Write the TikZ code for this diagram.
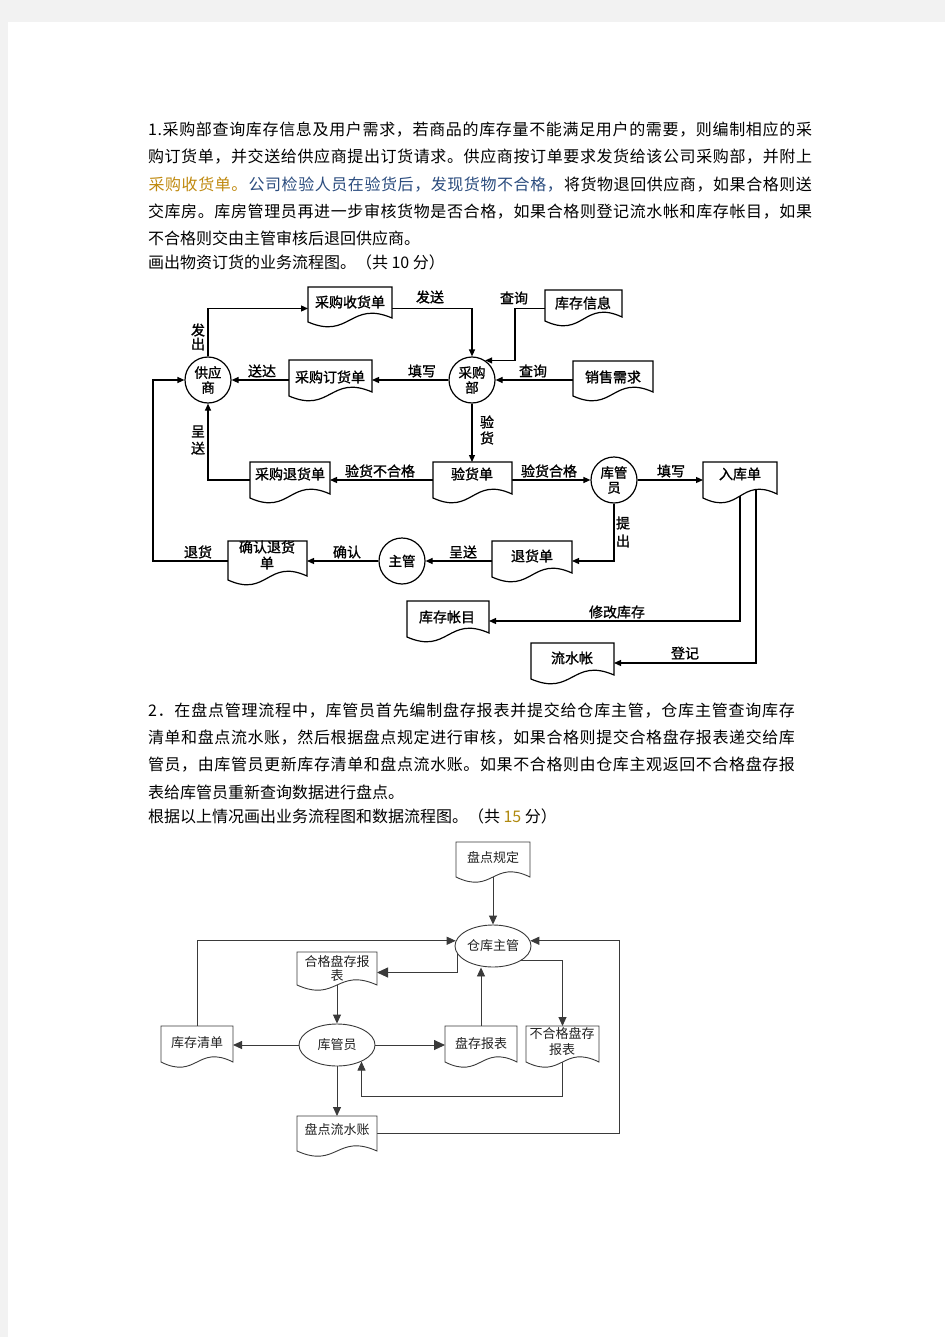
\documentclass[tikz,border=0pt]{standalone}
\usepackage{fontspec}
\setmainfont{Noto Sans CJK SC}
\newfontfamily\cjkbold[FakeBold=1.2]{Noto Sans CJK SC}
\usetikzlibrary{arrows.meta,calc,shapes.geometric}
\pgfdeclarelayer{back}
\pgfdeclarelayer{conn}
\pgfsetlayers{back,conn,main}
\definecolor{pagegray}{HTML}{F2F2F2}
\definecolor{corange}{HTML}{C08A10}
\definecolor{cblue}{HTML}{2B4C7E}
\definecolor{cnum}{HTML}{B08A10}
\definecolor{linetwo}{HTML}{3A3A3A}
\definecolor{txttwo}{HTML}{222222}
\makeatletter
\newcommand\jline[2]{\hbox to #1{\jl@a#2\@nil}}
\def\jl@a#1#2\@nil{#1\ifx\relax#2\relax\else\hfil\jl@a#2\@nil\fi}
\makeatother
\newcommand\cO{\color{corange}}
\newcommand\cB{\color{cblue}}
\newcommand\cK{\color{black}}
% name, L, R, T, B, raise, up, down, style
\newcommand\docbox[9]{%
  \node[docrect, minimum width={#3-#2}, minimum height={#5-#4}] (#1) at ({(#2+#3)/2},{(#4+#5)/2}) {};
  \draw[#9] (#1.north west) -- (#1.north east) -- ($(#1.south east)+(0,-#6)$)
    .. controls ($(#1.south)+(0,-#7)$) and ($(#1.south)+(0,#8)$) .. (#1.south west) -- cycle;}
\begin{document}
\begin{tikzpicture}[x=1pt,y=-1pt,
  para/.style={anchor=west, inner sep=0, outer sep=0, font=\fontsize{16}{18}\selectfont},
  lab/.style={inner sep=0, align=center, font=\cjkbold\fontsize{14}{16}\selectfont},
  docrect/.style={draw=none, inner sep=0, outer sep=0, rectangle},
  docone/.style={draw=black, line width=1.2pt, fill=white},
  doctwo/.style={draw=linetwo, line width=0.9pt, fill=white},
  circone/.style={circle, draw=black, line width=1.2pt, fill=white, minimum size=46pt, inner sep=0, align=center, font=\cjkbold\fontsize{13.5}{15}\selectfont},
  elltwo/.style={ellipse, draw=linetwo, line width=0.9pt, fill=white, minimum width=76pt, minimum height=42pt, inner sep=0, font=\fontsize{13}{15}\selectfont, text=txttwo},
  aone/.style={line width=1.2pt, -{Triangle[length=7pt,width=6pt]}},
  atwo/.style={line width=0.9pt, draw=linetwo, -{Triangle[length=9pt,width=8pt]}},
  atwobig/.style={line width=0.9pt, draw=linetwo, -{Triangle[length=11pt,width=10pt]}},
  ttwo/.style={inner sep=0, align=center, font=\fontsize{13}{15}\selectfont, text=txttwo}]
\begin{pgfonlayer}{back}
\fill[pagegray] (0,0) rectangle (945,1337);
\fill[white] (8,22) rectangle (945,1337);
\end{pgfonlayer}
\useasboundingbox (0,0) rectangle (945,1337);

% ---------- paragraph 1 ----------
\node[para] (p1a) at (148,130) {\jline{664pt}{1.采购部查询库存信息及用户需求，若商品的库存量不能满足用户的需要，则编制相应的采}};
\node[para] (p1b) at (148,157) {\jline{664pt}{购订货单，并交送给供应商提出订货请求。供应商按订单要求发货给该公司采购部，并附上}};
\node[para] (p1c) at (148,185) {\jline{664pt}{\cO 采购收货单。\cB 公司检验人员在验货后，发现货物不合格，\cK 将货物退回供应商，如果合格则送}};
\node[para] (p1d) at (148,212) {\jline{664pt}{交库房。库房管理员再进一步审核货物是否合格，如果合格则登记流水帐和库存帐目，如果}};
\node[para] (p1e) at (148,238) {不合格则交由主管审核后退回供应商。};
\node[para] (p1f) at (148,262) {画出物资订货的业务流程图。（共 10 分）};

% ---------- diagram 1 ----------
\docbox{cgsh}{308}{392}{287}{322}{4}{22}{18}{docone}
\docbox{kcxx}{545}{622}{290}{321}{4}{22}{18}{docone}
\docbox{cgdh}{289}{372}{360}{396}{4}{22}{18}{docone}
\docbox{xsxq}{573}{653}{361}{396}{4}{22}{18}{docone}
\docbox{cgth}{250}{330}{462}{498}{4}{22}{18}{docone}
\docbox{yhd}{433}{512}{462}{498}{4}{22}{18}{docone}
\docbox{rkd}{703}{777}{462}{498}{4}{22}{18}{docone}
\docbox{qrth}{228}{307}{541}{580}{4}{22}{18}{docone}
\docbox{thd}{492}{572}{541}{577}{4}{22}{18}{docone}
\docbox{kczm}{407}{489}{601}{637}{4}{22}{18}{docone}
\docbox{lsz}{531}{614}{643}{679}{4}{22}{18}{docone}

\node[circone] (gys) at (208,380) {供应\\商};
\node[circone] (cgb) at (472,380) {采购\\部};
\node[circone] (kgy) at (614,480) {库管\\员};
\node[circone] (zg) at (402,561) {主管};

\node[lab] (tcgsh) at (350,302) {采购收货单};
\node[lab] (tkcxx) at (583,303) {库存信息};
\node[lab] (tcgdh) at (330,377) {采购订货单};
\node[lab] (txsxq) at (613,377) {销售需求};
\node[lab] (tcgth) at (290,474) {采购退货单};
\node[lab] (tyhd) at (472,474) {验货单};
\node[lab] (trkd) at (740,474) {入库单};
\node[lab] (tqrth) at (267,555) {确认退货\\单};
\node[lab] (tthd) at (532,556) {退货单};
\node[lab] (tkczm) at (447,617) {库存帐目};
\node[lab] (tlsz) at (572,658) {流水帐};

\node[lab, font=\cjkbold\fontsize{14}{14}\selectfont] (lfc) at (198,337) {发\\出};
\node[lab] (lfs) at (430,297) {发送};
\node[lab] (lcxa) at (514,298) {查询};
\node[lab] (lsd) at (262,371) {送达};
\node[lab] (ltxa) at (422,371) {填写};
\node[lab] (lcxb) at (533,371) {查询};
\node[lab] (lyh) at (487,430) {验\\货};
\node[lab, font=\cjkbold\fontsize{14}{17}\selectfont] (lcsa) at (198,440) {呈\\送};
\node[lab] (lyhbhg) at (380,471) {验货不合格};
\node[lab] (lyhhg) at (549,471) {验货合格};
\node[lab] (ltxb) at (671,471) {填写};
\node[lab, font=\cjkbold\fontsize{14}{18}\selectfont] (ltc) at (623,532) {提\\出};
\node[lab] (lth) at (198,552) {退货};
\node[lab] (lqr) at (347,552) {确认};
\node[lab] (lcsb) at (463,552) {呈送};
\node[lab] (lxgkc) at (617,612) {修改库存};
\node[lab] (ldj) at (685,653) {登记};

\begin{pgfonlayer}{conn}
\draw[aone] (gys.north) |- ([yshift=-4pt]cgsh.west);
\draw[aone] ([yshift=-4pt]cgsh.east) -| (cgb.north);
\draw[aone] ([yshift=-3pt]kcxx.west) -- ++(-30,0) |- (cgb.56);
\draw[aone] (xsxq.west |- cgb.east) -- (cgb.east);
\draw[aone] (cgb.west) -- (cgdh.east |- cgb.west);
\draw[aone] (cgdh.west |- gys.east) -- (gys.east);
\draw[aone] (cgb.south) -- (cgb.south |- yhd.north);
\draw[aone] (yhd.west) -- (cgth.east);
\draw[aone] (cgth.west) -| (gys.south);
\draw[aone] (yhd.east) -- (kgy.west);
\draw[aone] (kgy.east) -- (rkd.west);
\draw[aone] (kgy.south) |- (thd.east |- zg.east);
\draw[aone] (thd.west |- zg.east) -- (zg.east);
\draw[aone] (zg.west) -- (qrth.east |- zg.west);
\draw[aone] (qrth.west |- zg.west) -- ++(-75,0) |- (gys.west);
\draw[aone] (rkd.center) |- ([yshift=-2pt]kczm.east);
\draw[aone] ([xshift=16pt]rkd.center) |- ([yshift=-2pt]lsz.east);
\end{pgfonlayer}

% ---------- paragraph 2 ----------
\node[para] (p2a) at (148,711) {\jline{647pt}{2．在盘点管理流程中，库管员首先编制盘存报表并提交给仓库主管，仓库主管查询库存}};
\node[para] (p2b) at (148,738) {\jline{647pt}{清单和盘点流水账，然后根据盘点规定进行审核，如果合格则提交合格盘存报表递交给库}};
\node[para] (p2c) at (148,765) {\jline{647pt}{管员，由库管员更新库存清单和盘点流水账。如果不合格则由仓库主观返回不合格盘存报}};
\node[para] (p2d) at (148,792) {表给库管员重新查询数据进行盘点。};
\node[para] (p2e) at (148,816) {根据以上情况画出业务流程图和数据流程图。（共 {\color{cnum}15} 分）};

% ---------- diagram 2 ----------
\docbox{pdgd}{456}{530}{842}{877}{0}{18}{18}{doctwo}
\docbox{hgpcbb}{297}{377}{952}{985}{0}{18}{18}{doctwo}
\docbox{kcqd}{161}{233}{1026}{1062}{0}{18}{18}{doctwo}
\docbox{pcbb}{445}{517}{1026}{1062}{0}{18}{18}{doctwo}
\docbox{bhg}{526}{599}{1026}{1062}{0}{18}{18}{doctwo}
\docbox{pdlsz}{297}{377}{1116}{1151}{0}{18}{18}{doctwo}

\node[elltwo] (ckzg) at (493,946) {仓库主管};
\node[elltwo] (kgyb) at (337,1045) {库管员};

\node[ttwo] (tpdgd) at (493,858) {盘点规定};
\node[ttwo, font=\fontsize{13}{14}\selectfont] (thgpc) at (337,968) {合格盘存报\\表};
\node[ttwo] (tkcqd) at (197,1043) {库存清单};
\node[ttwo] (tpcbb) at (481,1043) {盘存报表};
\node[ttwo, font=\fontsize{13}{16}\selectfont] (tbhg) at (562,1041) {不合格盘存\\报表};
\node[ttwo] (tpdlsz) at (337,1130) {盘点流水账};

\begin{pgfonlayer}{conn}
\draw[atwo] (pdgd.south) -- (ckzg.north);
\draw[atwo] (kcqd.north) |- (ckzg.172);
\draw[atwobig] (ckzg.193) |- ([yshift=-4pt]hgpcbb.east);
\draw[atwo] (hgpcbb.south) -- (kgyb.north);
\draw[atwo] (kgyb.west) -- (kcqd.east |- kgyb.west);
\draw[atwobig] (kgyb.east) -- (pcbb.west |- kgyb.east);
\draw[atwo] (pcbb.north) -- (pcbb.north |- ckzg.south);
\draw[atwo] (ckzg.-27) -| (bhg.north);
\draw[atwo] (bhg.south) -- ++(0,34) -| (kgyb.-34);
\draw[atwo] (kgyb.south) -- (pdlsz.north);
\draw[atwo] (pdlsz.east) -- ++(242,0) |- (ckzg.8);
\end{pgfonlayer}
\end{tikzpicture}
\end{document}
